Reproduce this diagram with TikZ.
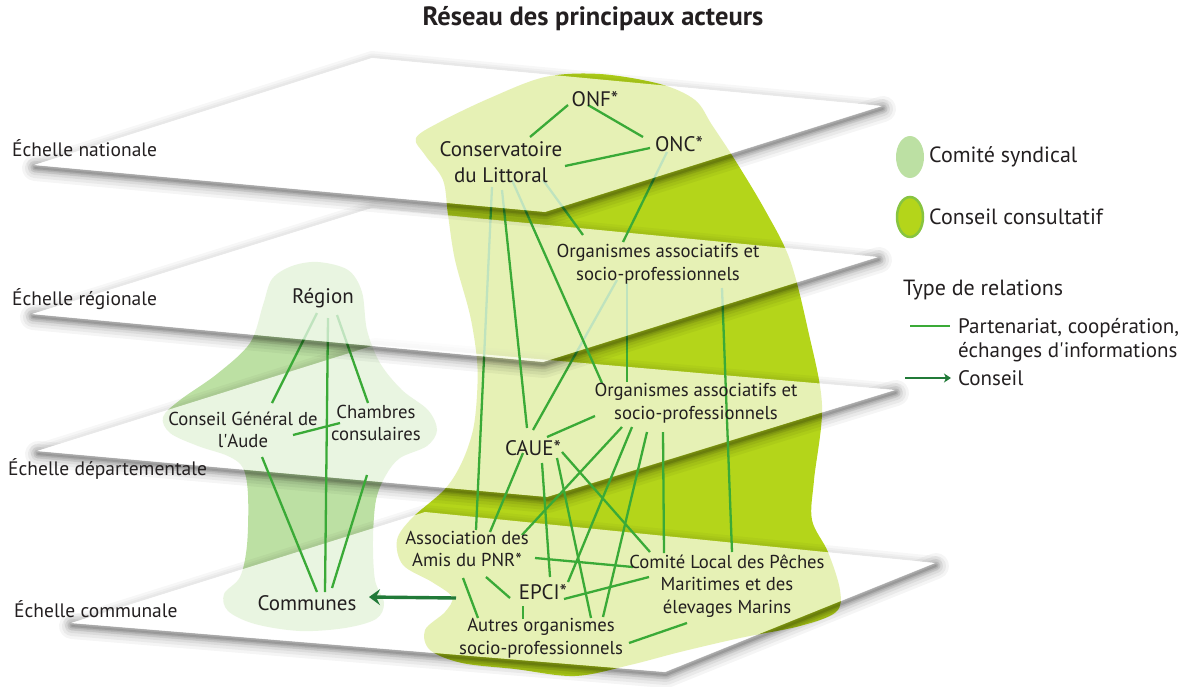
\documentclass[tikz,border=0pt]{standalone}
\usepackage{fontspec}
\setmainfont{PT Sans}
\usetikzlibrary{arrows.meta,shapes.geometric}
\definecolor{lime}{RGB}{180,213,26}
\definecolor{limeborder}{RGB}{135,196,64}
\definecolor{sgreen}{RGB}{188,224,163}
\definecolor{lgreen}{RGB}{58,170,55}
\definecolor{dgreen}{RGB}{33,122,56}
\definecolor{txt}{RGB}{35,31,32}
\pgfdeclarelayer{fg}
\pgfsetlayers{main,fg}
% #1 = left, #2 = top, #3 = right, #4 = bottom vertex
\newcommand\myplane[4]{%
 \begin{scope}
  \clip (-300,-300) -- (1500,-300) -- (1500,1000) -- (-300,1000) -- cycle #1 -- #4 -- #3 -- #2 -- cycle;
  \foreach \w in {14,9,5}
     {\draw[black, opacity=0.03, line width=\w pt, line join=round] #1 -- #2 -- #3 -- #4 -- cycle;}
  \begin{scope}[shift={(1,3)}]
   \foreach \w/\o in {26/0.04,20/0.05,14/0.06,9/0.08,5/0.09,2/0.1}
     {\draw[black, opacity=\o, line width=\w pt, line join=round, line cap=round] #1 -- #4 -- #3;}
  \end{scope}
 \end{scope}
 \fill[white, fill opacity=0.68] #1 -- #2 -- #3 -- #4 -- cycle;
}
\begin{document}
\begin{tikzpicture}[x=1pt,y=-1pt,
  rel/.style={draw=lgreen, line width=2.3pt},
  lab/.style={font=\fontsize{19.5}{23}\selectfont, text=txt, inner sep=0pt, anchor=west},
  big/.style={font=\fontsize{21}{26}\selectfont, text=txt, inner sep=0pt, align=center},
  med/.style={font=\fontsize{18.7}{22.5}\selectfont, text=txt, inner sep=0pt, align=center},
  legtxt/.style={font=\fontsize{22}{24}\selectfont, text=txt, inner sep=0pt, anchor=west, align=left}]
\useasboundingbox (0,0) rectangle (1186,686);

% ---------- nodes (foreground layer) ----------
\begin{pgfonlayer}{fg}
\node[font=\bfseries\fontsize{26.5}{30}\selectfont, text=txt] (title) at (593,19) {Réseau des principaux acteurs};
\node[lab] (lnat) at (12,148) {Échelle nationale};
\node[lab] (lreg) at (12,299) {Échelle régionale};
\node[lab] (ldep) at (8,469) {Échelle départementale};
\node[lab] (lcom) at (14,609) {Échelle communale};

\node[big] (onf) at (595,99) {ONF*};
\node[big] (onc) at (679,144) {ONC*};
\node[big] (conserv) at (501,162) {Conservatoire\\du Littoral};
\node[med] (orgreg) at (658,264) {Organismes associatifs et\\socio-professionnels};
\node[med] (orgdep) at (696,403) {Organismes associatifs et\\socio-professionnels};
\node[big] (caue) at (533,448) {CAUE*};
\node[med] (assoc) at (467,549) {Association des\\Amis du PNR*};
\node[big] (epci) at (543,592) {EPCI*};
\node[med] (autres) at (541,638) {Autres organismes\\socio-professionnels};
\node[med] (comite) at (727,586) {Comité Local des Pêches\\Maritimes et des\\élevages Marins};
\node[big] (region) at (323,298) {Région};
\node[med] (cg) at (243,430) {Conseil Général de\\l\textquotesingle Aude};
\node[med] (chambres) at (376,423) {Chambres\\consulaires};
\node[big] (communes) at (307,603) {Communes};

% legend
\node[ellipse, fill=sgreen, minimum width=28pt, minimum height=42pt, inner sep=0pt] (legA) at (910,157) {};
\node[legtxt] (legAt) at (929,157) {Comité syndical};
\node[ellipse, fill=lime, draw=limeborder, line width=2.5pt, minimum width=26pt, minimum height=40pt, inner sep=0pt] (legB) at (910,217) {};
\node[legtxt] (legBt) at (929,217) {Conseil consultatif};
\node[legtxt, font=\fontsize{22}{26}\selectfont] (legT) at (903,290) {Type de relations};
\node[legtxt, font=\fontsize{21}{24}\selectfont] (legP) at (958,340) {Partenariat, coopération,\\échanges d\textquotesingle informations};
\node[legtxt, font=\fontsize{21}{24}\selectfont] (legC) at (958,378) {Conseil};
\coordinate (lp1) at (910,326); \coordinate (lp2) at (950,326);
\coordinate (la1) at (905,378); \coordinate (la2) at (951,378);
\end{pgfonlayer}

% ---------- dark blobs ----------
\fill[lime] plot[smooth cycle, tension=0.55] coordinates {
 (416,138) (440,122) (490,98) (545,77) (600,74) (660,84) (695,100) (712,125) (735,160)
 (765,210) (790,260) (808,330) (822,405) (814,480) (812,520) (828,552) (840,590) (836,612)
 (800,626) (740,638) (680,652) (630,665) (575,676) (515,669) (462,663) (430,650) (425,630)
 (445,612) (452,597) (432,582) (403,565) (397,540) (412,518) (445,489) (462,462) (473,430)
 (477,395) (477,360) (470,315) (455,260) (448,215) (443,180) (425,155)};
\fill[sgreen] plot[smooth cycle, tension=0.55] coordinates {
 (272,279) (292,266) (318,262) (348,270) (362,292) (367,330) (380,363) (402,390) (428,410)
 (437,430) (427,446) (400,458) (386,475) (376,500) (373,540) (375,580) (384,603) (376,619)
 (345,628) (300,631) (255,624) (228,611) (224,594) (240,577) (247,545) (248,495) (243,468)
 (228,456) (198,446) (170,433) (163,417) (180,400) (217,374) (250,343) (263,305)};

% ---------- planes 4 and 3 ----------
\myplane{(71,623)}{(425,512)}{(935,563)}{(665,672)}
\myplane{(37,451)}{(375,345)}{(895,390)}{(547,497)}

% ---------- layer 3 connectors ----------
\draw[rel] ([shift={(-9,25)}]conserv.center) -- ([shift={(9,-19)}]assoc.center);
\draw[rel] ([shift={(-41,16)}]orgreg.center) -- ([shift={(0,-18)}]caue.center);
\draw[rel] ([shift={(-31,19)}]orgreg.center) -- ([shift={(-69,-21)}]orgdep.center);
\draw[rel] ([shift={(64,24)}]orgreg.center) -- ([shift={(5,-34)}]comite.center);
\draw[rel] ([shift={(-101,13)}]orgdep.center) -- ([shift={(14,-11)}]caue.center);
\draw[rel] ([shift={(-74,24)}]orgdep.center) -- ([shift={(55,-14)}]assoc.center);
\draw[rel] ([shift={(-64,24)}]orgdep.center) -- ([shift={(25,-10)}]epci.center);
\draw[rel] ([shift={(-49,29)}]orgdep.center) -- ([shift={(62,-21)}]autres.center);
\draw[rel] ([shift={(-33,29)}]orgdep.center) -- ([shift={(-63,-33)}]comite.center);
\draw[rel] ([shift={(-10,5)}]caue.center) -- ([shift={(23,-17)}]assoc.center);
\draw[rel] ([shift={(9,15)}]caue.center) -- ([shift={(7,-15)}]epci.center);
\draw[rel] ([shift={(24,10)}]caue.center) -- ([shift={(50,-20)}]autres.center);
\draw[rel] ([shift={(29,4)}]caue.center) -- ([shift={(-77,-34)}]comite.center);
\draw[rel] ([shift={(68,9)}]assoc.center) -- ([shift={(-94,-19)}]comite.center);
\draw[rel] ([shift={(19,28)}]assoc.center) -- ([shift={(-33,6)}]epci.center);
\draw[rel] ([shift={(-4,29)}]assoc.center) -- ([shift={(-63,-20)}]autres.center);
\draw[rel] ([shift={(21,7)}]epci.center) -- ([shift={(-78,-9)}]comite.center);
\draw[rel] ([shift={(-20,14)}]epci.center) -- ([shift={(-18,-19)}]autres.center);
\draw[rel] ([shift={(-40,37)}]comite.center) -- ([shift={(88,5)}]autres.center);
\draw[rel] ([shift={(-6,15)}]region.center) -- ([shift={(29,-27)}]cg.center);
\draw[rel] ([shift={(5,20)}]region.center) -- ([shift={(18,-11)}]communes.center);
\draw[rel] ([shift={(14,17)}]region.center) -- ([shift={(-8,-20)}]chambres.center);
\draw[rel] ([shift={(50,5)}]cg.center) -- ([shift={(-36,0)}]chambres.center);
\draw[rel] ([shift={(19,27)}]cg.center) -- ([shift={(10,-11)}]communes.center);
\draw[rel] ([shift={(-9,52)}]chambres.center) -- ([shift={(25,-15)}]communes.center);
\coordinate (arrowstart) at (456,598);
\draw[dgreen, line width=3.4pt, -{Stealth[length=11pt,width=16pt,inset=4pt]}] (arrowstart) -- ([shift={(62,-6)}]communes.center);

% ---------- plane 2 ----------
\myplane{(32,314)}{(372,208)}{(878,257)}{(543,362)}
% layer 2 connectors
\draw[rel] ([shift={(42,18)}]conserv.center) -- ([shift={(-75,-29)}]orgreg.center);
\draw[rel] ([shift={(-12,8)}]onc.center) -- ([shift={(-35,-22)}]orgreg.center);
\draw[rel] ([shift={(1,28)}]conserv.center) -- ([shift={(-6,-20)}]caue.center);
\draw[rel] ([shift={(11,18)}]conserv.center) -- ([shift={(-94,-20)}]orgdep.center);

% ---------- plane 1 ----------
\myplane{(34,165)}{(372,58)}{(882,106)}{(545,212)}
% layer 1 connectors
\draw[rel] ([shift={(-27,6)}]onf.center) -- ([shift={(29,-25)}]conserv.center);
\draw[rel] ([shift={(-7,6)}]onf.center) -- ([shift={(-36,-7)}]onc.center);
\draw[rel] ([shift={(64,4)}]conserv.center) -- ([shift={(-29,4)}]onc.center);

% ---------- legend connectors ----------
\draw[rel] (lp1) -- (lp2);
\draw[dgreen, line width=2.2pt, -{Stealth[length=7pt,width=9pt,inset=2pt]}] (la1) -- (la2);
\end{tikzpicture}
\end{document}
